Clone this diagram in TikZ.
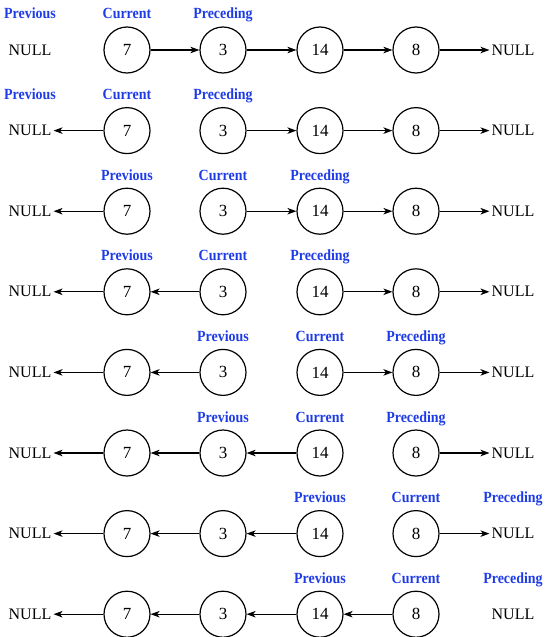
\documentclass[tikz,border=0pt]{standalone}
\usepackage{fontspec}
\setmainfont{Liberation Serif}
\newfontfamily\lblfont[FakeStretch=0.9]{Liberation Serif}
\usetikzlibrary{arrows.meta}
\definecolor{lblblue}{RGB}{30,60,230}
\begin{document}
\begin{tikzpicture}[x=1pt,y=-1pt,
  cell/.style={circle,draw,line width=1.2pt,minimum size=46pt,inner sep=0pt,font=\fontsize{17}{17}\selectfont},
  nul/.style={inner sep=2pt,font=\fontsize{16}{16}\selectfont},
  lbl/.style={text=lblblue,inner sep=0pt,anchor=base,font=\lblfont\fontsize{15.5}{15.5}\selectfont\bfseries},
  link/.style={line width=1.2pt,-{Stealth[length=9pt,width=6.5pt,inset=2.5pt]}}]
\useasboundingbox (0,0) rectangle (551,637);
\foreach \r/\pa/\pb/\pc in {1/30/127/223,2/30/127/223,3/127/223/320,4/127/223/320,5/223/320/416,6/223/320/416,7/320/416/513,8/320/416/513}{
  \pgfmathsetmacro\yy{50+80.6*(\r-1)}
  \pgfmathsetmacro\ly{\yy-31}
  \node[nul] (L\r) at (30,\yy) {NULL};
  \node[cell] (A\r) at (127,\yy) {7};
  \node[cell] (B\r) at (223,\yy) {3};
  \node[cell] (C\r) at (320,\yy) {14};
  \node[cell] (D\r) at (416,\yy) {8};
  \node[nul] (R\r) at (513,\yy) {NULL};
  \node[lbl] (prev\r) at (\pa,\ly) {Previous};
  \node[lbl] (cur\r) at (\pb,\ly) {Current};
  \node[lbl] (prec\r) at (\pc,\ly) {Preceding};
}
% row 1
\draw[link] (A1) -- (B1);
\draw[link] (B1) -- (C1);
\draw[link] (C1) -- (D1);
\draw[link] (D1) -- (R1);
% rows 2,3
\foreach \r in {2,3}{
  \draw[link] (A\r) -- (L\r);
  \draw[link] (B\r) -- (C\r);
  \draw[link] (C\r) -- (D\r);
  \draw[link] (D\r) -- (R\r);
}
% rows 4,5
\foreach \r in {4,5}{
  \draw[link] (A\r) -- (L\r);
  \draw[link] (B\r) -- (A\r);
  \draw[link] (C\r) -- (D\r);
  \draw[link] (D\r) -- (R\r);
}
% rows 6,7
\foreach \r in {6,7}{
  \draw[link] (A\r) -- (L\r);
  \draw[link] (B\r) -- (A\r);
  \draw[link] (C\r) -- (B\r);
  \draw[link] (D\r) -- (R\r);
}
% row 8
\draw[link] (A8) -- (L8);
\draw[link] (B8) -- (A8);
\draw[link] (C8) -- (B8);
\draw[link] (D8) -- (C8);
\end{tikzpicture}
\end{document}
